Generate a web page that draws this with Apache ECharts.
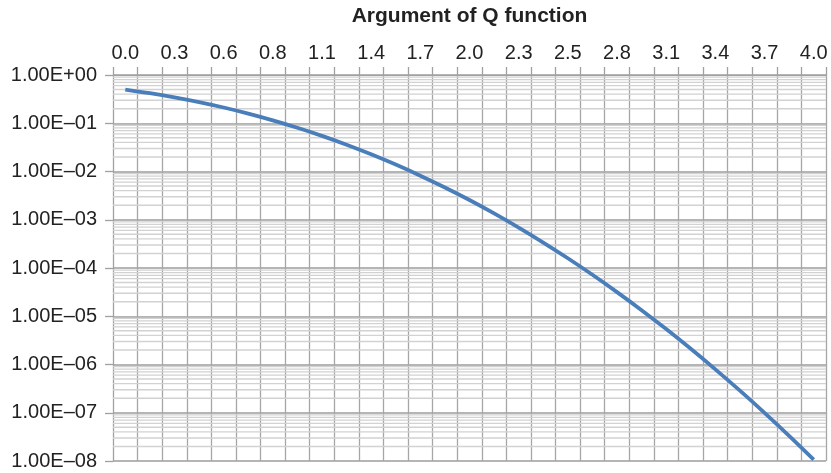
<!DOCTYPE html>
<html>
<head>
<meta charset="utf-8">
<script src="https://cdn.jsdelivr.net/npm/echarts@6/dist/echarts.min.js"></script>
<style>html,body{margin:0;padding:0;background:#fff;}#c{width:831px;height:473px;}</style>
</head>
<body>
<div id="c"></div>
<script>
// Category labels (argument of Q function, shown every other one)
const categories = ["0.0","0.1","0.3","0.4","0.6","0.7","0.8","1.0","1.1","1.3",
  "1.4","1.6","1.7","1.8","2.0","2.1","2.3","2.4","2.5","2.7",
  "2.8","3.0","3.1","3.3","3.4","3.5","3.7","3.8","4.0"];
// Q function values
const qValues = [0.5, 0.42074, 0.34458, 0.27425, 0.21186, 0.15866, 0.11507, 0.08076, 0.05480, 0.03593,
  0.02275, 0.01390, 0.00820, 0.00466, 0.00256, 0.00135, 6.871e-4, 3.369e-4, 1.591e-4, 7.235e-5,
  3.167e-5, 1.335e-5, 5.413e-6, 2.112e-6, 7.933e-7, 2.867e-7, 9.964e-8, 3.332e-8, 1.072e-8];
const yTickLabels = ["1.00E+00","1.00E\u201301","1.00E\u201302","1.00E\u201303","1.00E\u201304","1.00E\u201305","1.00E\u201306","1.00E\u201307","1.00E\u201308"];

// minor log gridline positions (2..9 x 10^e)
const minorVals = [];
for (let e = -8; e < 0; e++) for (let m = 2; m <= 9; m++) minorVals.push(m * Math.pow(10, e));

const FONT = "'Liberation Sans', Arial, Helvetica, sans-serif";
const chart = echarts.init(document.getElementById('c'));
chart.setOption({
  animation: false,
  grid: {left: 113, right: 5, top: 75, bottom: 12, containLabel: false},
  xAxis: {
    type: 'category', position: 'top', data: categories, boundaryGap: true,
    name: 'Argument of Q function', nameLocation: 'middle', nameGap: 48,
    nameTextStyle: {fontFamily: FONT, fontSize: 21, fontWeight: 'bold', color: '#222'},
    axisLine: {show: true, lineStyle: {color: '#a0a0a0', width: 1}},
    axisTick: {show: true, interval: 0, length: 8, alignWithLabel: false, lineStyle: {color: '#a0a0a0', width: 1.3}},
    axisLabel: {interval: 1, margin: 12, fontFamily: FONT, fontSize: 20, color: '#222'},
    splitLine: {show: true, interval: 0, lineStyle: {color: '#a6a6a6', width: 1.3}}
  },
  yAxis: {
    type: 'log', logBase: 10, min: 1e-8, max: 1, interval: 1,
    axisLine: {show: true, lineStyle: {color: '#a0a0a0', width: 1}},
    axisTick: {show: true, length: 8, lineStyle: {color: '#a0a0a0', width: 1.3}},
    axisLabel: {margin: 16, fontFamily: FONT, fontSize: 20, color: '#222',
      formatter: function (v) { const e = Math.round(-Math.log10(v)); return yTickLabels[e]; }},
    splitLine: {show: true, lineStyle: {color: '#9c9c9c', width: 1.6}}
  },
  series: [
    {
      type: 'custom', silent: true, z: 1,
      data: minorVals.map(v => [0, v]),
      encode: {x: 0, y: 1},
      renderItem: function (params, api) {
        const cs = params.coordSys;
        const p = api.coord([0, api.value(1)]);
        return {type: 'line', shape: {x1: cs.x, y1: p[1], x2: cs.x + cs.width, y2: p[1]},
          style: {stroke: '#d2d2d2', lineWidth: 1.3}};
      }
    },
    {
      type: 'line', data: qValues, showSymbol: false, smooth: 0.3, z: 5,
      lineStyle: {color: '#4a7ebb', width: 3.8}
    }
  ]
});
</script>
</body>
</html>
